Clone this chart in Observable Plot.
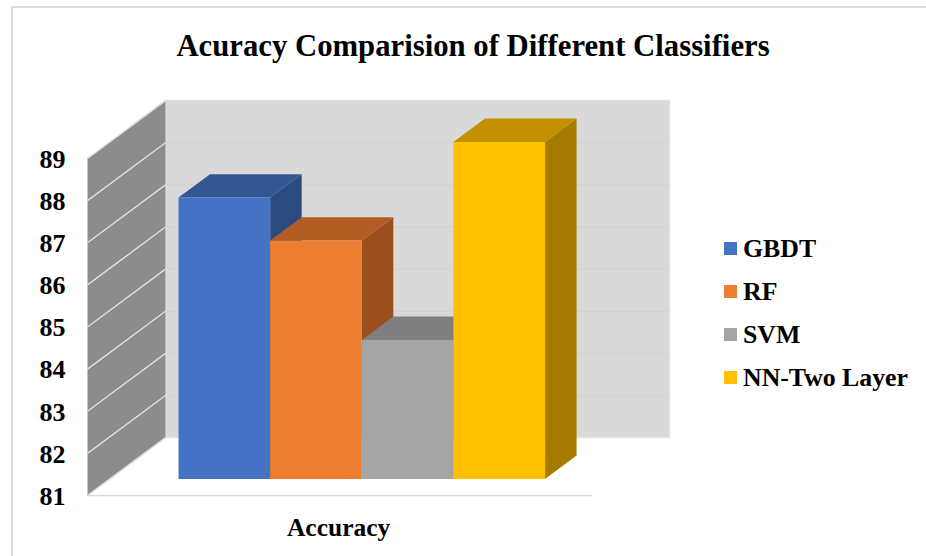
<!DOCTYPE html>
<html>
<head>
<meta charset="utf-8">
<script src="https://cdn.jsdelivr.net/npm/d3@7"></script>
<script src="https://cdn.jsdelivr.net/npm/@observablehq/plot@0.6"></script>
<style>
  html, body { margin: 0; background: #fff; }
  #chart {
    position: relative; width: 926px; height: 556px; overflow: hidden;
    font-family: "Liberation Serif", serif; font-weight: bold; color: #000;
  }
  #chart svg { display: block; background: transparent; }
  #frame {
    position: absolute; left: 11px; top: 6px; right: -4px; bottom: -4px;
    border: 2px solid #dcdcdc; pointer-events: none;
  }
  #title {
    position: absolute; left: 0; top: 26px; width: 946px; text-align: center;
    font-size: 32px; line-height: 38px; white-space: nowrap;
    transform: scaleX(0.96); transform-origin: 473px 0;
  }
  #legend { position: absolute; left: 724px; top: 227px; }
  #legend .row { display: flex; align-items: center; height: 43px; font-size: 25.8px; white-space: nowrap; }
  #legend .swatch { width: 13px; height: 13px; margin-right: 6px; }
</style>
</head>
<body>
<div id="chart"></div>
<script>
// Chart content
const chartTitle = "Acuracy Comparision of Different Classifiers";
const categoryLabel = "Accuracy";
const classifiers = ["GBDT", "RF", "SVM", "NN-Two Layer"];
const accuracy = [87.68, 86.66, 84.3, 89.0];
const valueTicks = [81, 82, 83, 84, 85, 86, 87, 88, 89];

// Shades per classifier: front, side and top faces of the column
const frontColors = ["#4472c4", "#ed7d31", "#a5a5a5", "#ffc000"];
const sideColors = ["#2b4a80", "#9a4f1d", "#636363", "#a67c00"];
const topColors = ["#345692", "#b35d24", "#7f7f7f", "#c49000"];

// Oblique 3D layout: x is measured in column widths, y in accuracy points.
// Depth runs from 0 (front of the floor) to 1 (back wall).
const axisMin = 81;
const axisMax = 89;
const floorWidth = 5.5;
const gapWidth = 0.75;
const depthShiftX = 0.851;
const depthShiftY = 1.374;
const columnFront = 0.286;
const columnBack = 0.69;

const project = (x, value, depth) => ({
  x: x + depthShiftX * depth,
  y: value + depthShiftY * depth
});

const polygon = (id, fill, corners) =>
  [...corners, corners[0]].map(([x, value, depth]) => ({id, fill, ...project(x, value, depth)}));

// Columns are painted left to right so each one overlaps its left neighbour
const columnFaces = classifiers.flatMap((name, i) => {
  const x0 = gapWidth + i;
  const x1 = x0 + 1;
  const v = accuracy[i];
  const d0 = columnFront;
  const d1 = columnBack;
  return [
    polygon(`${name}-side`, sideColors[i], [[x1, axisMin, d0], [x1, axisMin, d1], [x1, v, d1], [x1, v, d0]]),
    polygon(`${name}-top`, topColors[i], [[x0, v, d0], [x0, v, d1], [x1, v, d1], [x1, v, d0]]),
    polygon(`${name}-front`, frontColors[i], [[x0, axisMin, d0], [x1, axisMin, d0], [x1, v, d0], [x0, v, d0]])
  ].flat();
});

const backWall = polygon("back", "#d9d9d9", [
  [0, axisMin, 1], [floorWidth, axisMin, 1], [floorWidth, axisMax, 1], [0, axisMax, 1]
]);
const sideWall = polygon("side", "#8c8c8c", [
  [0, axisMin, 0], [0, axisMin, 1], [0, axisMax, 1], [0, axisMax, 0]
]);

// Back-wall rules stop short of the top and bottom edges, which are drawn lighter
const backGrid = valueTicks.slice(1, -1).flatMap((v) => [
  {id: v, ...project(0, v, 1)},
  {id: v, ...project(floorWidth, v, 1)}
]);
const sideGrid = valueTicks.flatMap((v) => [
  {id: v, ...project(0, v, 0)},
  {id: v, ...project(0, v, 1)}
]);
const floorEdge = [project(0, axisMin, 0), project(floorWidth, axisMin, 0)];
const wallBorder = [
  project(0, axisMax, 1), project(floorWidth, axisMax, 1),
  project(floorWidth, axisMin, 1), project(0, axisMin, 1)
];

const plot = Plot.plot({
  width: 926,
  height: 556,
  marginTop: 0,
  marginRight: 335,
  marginBottom: 61,
  marginLeft: 87,
  x: {domain: [0, floorWidth], range: [87, 591]},
  y: {domain: [axisMin, axisMax], range: [495, 158]},
  color: {type: "identity"},
  style: {fontFamily: "'Liberation Serif', serif", fontWeight: "bold", color: "#000", overflow: "visible"},
  marks: [
    Plot.line(backWall, {x: "x", y: "y", z: "id", fill: "fill", stroke: null}),
    Plot.line(backGrid, {x: "x", y: "y", z: "id", stroke: "#d1d1d1", strokeWidth: 1}),
    Plot.line(wallBorder, {x: "x", y: "y", stroke: "#e2e2e2", strokeWidth: 1.5}),
    Plot.line(sideWall, {x: "x", y: "y", z: "id", fill: "fill", stroke: null}),
    Plot.line(sideGrid, {x: "x", y: "y", z: "id", stroke: "#dedede", strokeWidth: 1.5}),
    Plot.line(floorEdge, {x: "x", y: "y", stroke: "#d9d9d9", strokeWidth: 1.5}),
    Plot.line(columnFaces, {x: "x", y: "y", z: "id", fill: "fill", stroke: null}),
    Plot.axisY({
      ticks: valueTicks,
      tickFormat: (d) => String(d),
      tickSize: 0,
      tickPadding: 22,
      fontSize: 26,
      dy: 1,
      label: null
    }),
    Plot.axisX({
      ticks: [floorWidth / 2 - 0.01],
      tickFormat: () => categoryLabel,
      tickSize: 0,
      tickPadding: 22,
      fontSize: 25.5,
      label: null
    })
  ]
});

const chart = document.getElementById("chart");
chart.appendChild(plot);

const frame = document.createElement("div");
frame.id = "frame";
chart.appendChild(frame);

const title = document.createElement("div");
title.id = "title";
title.textContent = chartTitle;
chart.appendChild(title);

const legend = document.createElement("div");
legend.id = "legend";
classifiers.forEach((name, i) => {
  const row = document.createElement("div");
  row.className = "row";
  const swatch = document.createElement("div");
  swatch.className = "swatch";
  swatch.style.background = frontColors[i];
  row.appendChild(swatch);
  row.appendChild(document.createTextNode(name));
  legend.appendChild(row);
});
chart.appendChild(legend);
</script>
</body>
</html>
